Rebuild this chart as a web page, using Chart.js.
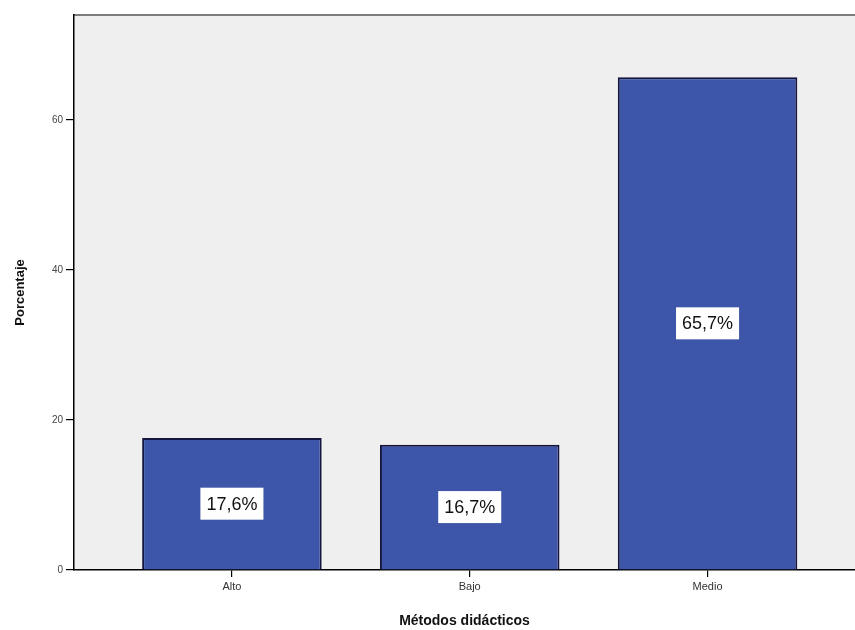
<!DOCTYPE html>
<html>
<head>
<meta charset="utf-8">
<script src="https://cdn.jsdelivr.net/npm/chart.js@4"></script>
<style>
  html, body { margin: 0; padding: 0; background: #fff; }
  #wrap { width: 855px; height: 630px; }
</style>
</head>
<body>
<div id="wrap"><canvas id="chart" width="855" height="630"></canvas></div>
<script>
// === Data ===
const categories = ['Alto', 'Bajo', 'Medio'];
const percentages = [17.6, 16.7, 65.7];
const yTicks = [0, 20, 40, 60];

// gray plot area + top frame line
const plotBackground = {
  id: 'plotBackground',
  beforeDraw(chart) {
    const { ctx, chartArea: a } = chart;
    ctx.save();
    ctx.fillStyle = '#efefef';
    ctx.fillRect(a.left, a.top, a.right - a.left, a.bottom - a.top);
    ctx.strokeStyle = '#555';
    ctx.lineWidth = 1.5;
    ctx.beginPath();
    ctx.moveTo(a.left, a.top);
    ctx.lineTo(a.right, a.top);
    ctx.stroke();
    ctx.restore();
  }
};

// white boxes with the percentage in the middle of each bar
const barLabels = {
  id: 'barLabels',
  afterDatasetsDraw(chart) {
    const { ctx } = chart;
    const meta = chart.getDatasetMeta(0);
    ctx.save();
    ctx.font = '18px "Liberation Sans", Arial, sans-serif';
    ctx.textAlign = 'center';
    ctx.textBaseline = 'middle';
    meta.data.forEach((bar, i) => {
      const text = percentages[i].toFixed(1).replace('.', ',') + '%';
      const cy = (bar.y + bar.base) / 2;
      const w = ctx.measureText(text).width + 12;
      const h = 32;
      ctx.fillStyle = '#fff';
      ctx.fillRect(bar.x - w / 2, cy - h / 2, w, h);
      ctx.fillStyle = '#111';
      ctx.fillText(text, bar.x, cy + 1);
    });
    ctx.restore();
  }
};

const ctx = document.getElementById('chart').getContext('2d');
new Chart(ctx, {
  type: 'bar',
  data: {
    datasets: [{
      label: 'Porcentaje',
      data: categories.map((c, i) => ({ x: i, y: percentages[i] })),
      backgroundColor: '#3d56a9',
      borderColor: '#141640',
      borderWidth: 2,
      barPercentage: 0.755,
      categoryPercentage: 1
    }]
  },
  options: {
    responsive: false,
    animation: false,
    layout: { padding: { top: 15, right: 0, left: 0, bottom: 0 } },
    plugins: {
      legend: { display: false },
      tooltip: { enabled: false }
    },
    scales: {
      x: {
        type: 'linear',
        offset: false,
        min: -0.664,
        max: 2.62,
        afterBuildTicks: scale => { scale.ticks = categories.map((c, i) => ({ value: i })); },
        afterFit: scale => { scale.height = 60; },
        border: { display: true, color: '#000', width: 1.5 },
        grid: { display: true, offset: false, drawOnChartArea: false, drawTicks: true, tickLength: 7, color: '#000', lineWidth: 1.2 },
        ticks: {
          autoSkip: false,
          maxRotation: 0,
          padding: 3,
          color: '#333',
          font: { family: '"Liberation Sans", Arial, sans-serif', size: 11 },
          callback: v => categories[v]
        },
        title: {
          display: true,
          text: 'Métodos didácticos',
          color: '#111',
          padding: { top: 6, bottom: 0 },
          font: { family: '"Liberation Sans", Arial, sans-serif', size: 14, weight: 'bold' }
        }
      },
      y: {
        min: 0,
        max: 74,
        afterBuildTicks: scale => { scale.ticks = yTicks.map(v => ({ value: v })); },
        afterFit: scale => { scale.width = 74; },
        border: { display: true, color: '#000', width: 1.5 },
        grid: { display: true, drawOnChartArea: false, drawTicks: true, tickLength: 8, color: '#000', lineWidth: 1.2 },
        ticks: {
          padding: 3,
          color: '#444',
          font: { family: '"Liberation Sans", Arial, sans-serif', size: 10 }
        },
        title: {
          display: true,
          text: 'Porcentaje',
          color: '#111',
          padding: { top: 13, bottom: 0 },
          font: { family: '"Liberation Sans", Arial, sans-serif', size: 13, weight: 'bold' }
        }
      }
    }
  },
  plugins: [plotBackground, barLabels]
});
</script>
</body>
</html>
